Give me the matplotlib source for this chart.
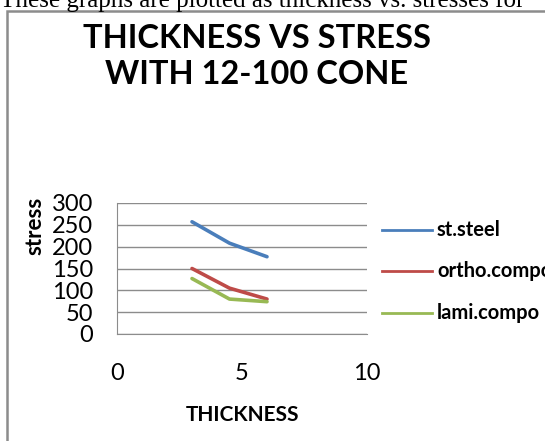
import matplotlib
matplotlib.use("Agg")
import matplotlib.pyplot as plt
from matplotlib.patches import Rectangle

plt.rcParams["font.family"] = ["Lato", "DejaVu Sans"]

# thickness vs stress, 12-100 cone
thickness = [3, 4.5, 6]
st_steel = [257, 208, 177]
ortho_compo = [150, 105, 80]
lami_compo = [127, 80, 74]
series = [("st.steel", st_steel, "#4A7EBB"),
          ("ortho.compo", ortho_compo, "#BE4B48"),
          ("lami.compo", lami_compo, "#98B954")]

W, H = 545, 441
fig = plt.figure(figsize=(W / 100, H / 100), dpi=100)

def fx(px):
    return px / W

def fy(py):
    return 1 - py / H

# cut-off line of body text above the chart
fig.text(0.0, fy(7), "These graphs are plotted as thickness vs. stresses for",
         family="Liberation Serif", fontsize=18, va="baseline", ha="left")

# chart frame
fig.patches.append(Rectangle((fx(7), -0.1), 1.2, fy(11) + 0.1, transform=fig.transFigure,
                             fill=False, edgecolor="#8c8c8c", lw=1.8))

fig.text(fx(257), fy(38), "THICKNESS VS STRESS", fontsize=23.5, fontweight="bold",
         ha="center", va="center")
fig.text(fx(257), fy(75), "WITH 12-100 CONE", fontsize=23.5, fontweight="bold",
         ha="center", va="center")

ax = fig.add_axes([fx(117), fy(334), fx(367) - fx(117), fy(203) - fy(334)])
for name, vals, c in series:
    ax.plot(thickness, vals, color=c, lw=2.6, solid_capstyle="round", label=name)

ax.set_xlim(0, 10)
ax.set_ylim(0, 300)
ax.set_xticks([0, 5, 10])
ax.set_yticks(range(0, 301, 50))
ax.grid(axis="y", color="#8c8c8c", lw=1)
ax.set_axisbelow(True)
ax.tick_params(length=0, labelsize=17, colors="black")
ax.tick_params(axis="x", pad=21)
ax.tick_params(axis="y", pad=17)
for s in ["top", "right"]:
    ax.spines[s].set_visible(False)
for s in ["left", "bottom"]:
    ax.spines[s].set_color("#8c8c8c")

fig.text(fx(35), fy(226), "stress", rotation=90, fontsize=16, fontweight="bold",
         ha="center", va="center")
fig.text(fx(242), fy(415), "THICKNESS", fontsize=15, fontweight="bold",
         ha="center", va="center")

# legend drawn beside the plot
for (name, vals, c), ly in zip(series, [230, 271, 313]):
    fig.add_artist(plt.Line2D([fx(382), fx(432)], [fy(ly), fy(ly)], color=c, lw=2,
                              transform=fig.transFigure))
    fig.text(fx(437), fy(ly), name, fontsize=14.5, fontweight="bold",
             ha="left", va="center")

fig.savefig("out.png", dpi=100)
